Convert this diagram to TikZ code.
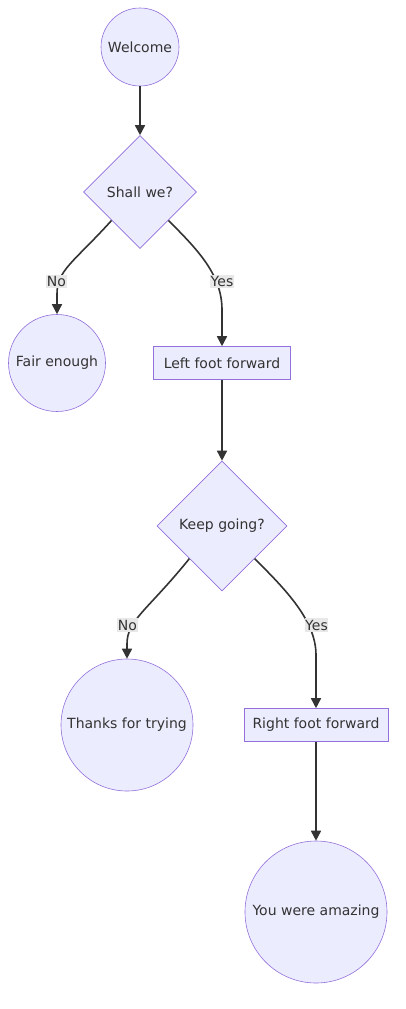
\documentclass[tikz,border=0pt]{standalone}
\usepackage{fontspec}
\setmainfont{DejaVu Sans}
\usetikzlibrary{shapes.geometric,arrows.meta}
\definecolor{nodefill}{HTML}{ECECFF}
\definecolor{nodeline}{HTML}{9370DB}
\definecolor{edgecol}{HTML}{333333}
\definecolor{lblbg}{HTML}{E8E8E8}
\definecolor{txt}{HTML}{333333}
\begin{document}
\begin{tikzpicture}[x=1pt,y=-1pt,
  txtfont/.style={font=\fontsize{14}{16}\selectfont},
  base/.style={draw=nodeline, fill=nodefill, line width=0.6pt, text=txt, txtfont, inner sep=0pt},
  circ/.style={base, circle, minimum size=#1},
  dec/.style={base, diamond, minimum width=#1, minimum height=#1, aspect=1},
  proc/.style={base, rectangle, minimum width=#1, minimum height=33},
  edge/.style={draw=edgecol, line width=1.6pt, -{Triangle[length=10pt,width=10pt]}},
  lbl/.style={fill=lblbg, text=txt, txtfont, inner xsep=0.5pt, inner ysep=1.5pt}
]
\fill[white] (0,0) rectangle (405,1009);
\useasboundingbox (0,0) rectangle (405,1009);
\node[circ=78] (welcome) at (140,47) {Welcome};
\node[dec=113] (shall) at (140,192) {Shall we?};
\node[circ=97] (fair) at (57,363) {Fair enough};
\node[proc=137] (left) at (222,363) {Left foot forward};
\node[dec=130] (keep) at (222,526) {Keep going?};
\node[circ=132] (thanks) at (127,725) {Thanks for trying};
\node[proc=144] (right) at (316,725) {Right foot forward};
\node[circ=142] (amazing) at (316,912) {You were amazing};

\coordinate (b1) at (57,294);
\coordinate (b2) at (222,310);
\coordinate (b3) at (127,644);
\coordinate (b4) at (316,655);

\draw[edge] (welcome) -- (shall);
\draw[edge] (shall.south west) .. controls +(-38,42) and +(0,-24) .. (b1) -- (fair.north);
\draw[edge] (shall.south east) .. controls +(30,30) and +(0,-35) .. (b2) -- (left.north);
\draw[edge] (left) -- (keep);
\draw[edge] (keep.south west) .. controls +(-42,52) and +(0,-24) .. (b3) -- (thanks.north);
\draw[edge] (keep.south east) .. controls +(30,30) and +(0,-35) .. (b4) -- (right.north);
\draw[edge] (right) -- (amazing);

\node[lbl] (l1) at (56.5,281.5) {No};
\node[lbl] (l2) at (222,281.5) {Yes};
\node[lbl] (l3) at (127.5,625) {No};
\node[lbl] (l4) at (316.5,625) {Yes};
\end{tikzpicture}
\end{document}
